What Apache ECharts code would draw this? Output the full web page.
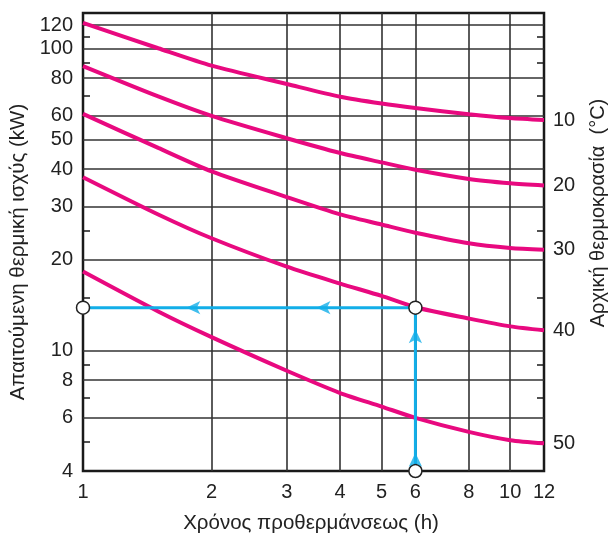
<!DOCTYPE html>
<html>
<head>
<meta charset="utf-8">
<script src="https://cdn.jsdelivr.net/npm/echarts@6/dist/echarts.min.js"></script>
<style>
html,body{margin:0;padding:0;background:#fff;}
#c{width:611px;height:534px;}
</style>
</head>
<body>
<div id="c"></div>
<script>
// Time (h) sample positions
var hours = [1, 1.5, 2, 3, 4, 5, 6, 8, 10, 12];
// Required heating power (kW) for each initial temperature (°C)
var temps = [10, 20, 30, 40, 50];
var power10 = [122, 100.5, 88, 76.5, 69.4, 65.9, 63.7, 60.8, 59.0, 58.1];
var power20 = [87.7, 69.6, 60, 50.6, 45.2, 42.1, 39.8, 37.1, 35.9, 35.3];
var power30 = [60.9, 47.0, 39.3, 32.3, 28.3, 26.2, 24.6, 22.7, 21.9, 21.6];
var power40 = [37.6, 28.3, 23.6, 19.0, 16.7, 15.2, 13.95, 12.8, 12.05, 11.7];
var power50 = [18.3, 13.5, 11.1, 8.59, 7.25, 6.54, 6.0, 5.39, 5.06, 4.94];
// Example path
var exampleX = [6, 6, 1];
var exampleY = [4, 13.9, 13.9];
var arrowX = [3.52, 1.745, 6, 6];
var arrowY = [13.9, 13.9, 4.6, 11.8];
var arrowRot = [90, 90, 0, 0];
// Ticks
var xLabels = [1, 2, 3, 4, 5, 6, 8, 10, 12];
var xGrid = [2, 3, 4, 5, 6, 8, 10];
var yLabels = [4, 6, 8, 10, 20, 30, 40, 50, 60, 80, 100, 120];
var yGrid = [6, 8, 10, 20, 30, 40, 50, 60, 80, 100, 120];
var yMinor = [5, 7, 9, 15, 25, 70, 90, 110];

var powers = [power10, power20, power30, power40, power50];
var FONT = '"Liberation Sans", Arial, sans-serif';
var YMIN = 4, YMAX = 131.5;
var chart = echarts.init(document.getElementById('c'), null, {renderer: 'canvas'});

var series = powers.map(function (p, i) {
  return {
    type: 'line', xAxisIndex: 0, yAxisIndex: 0,
    data: hours.map(function (h, j) { return [h, p[j]]; }),
    smooth: 0.25, symbol: 'none',
    lineStyle: {color: '#E8097F', width: 4},
    endLabel: {show: true, formatter: String(temps[i]), distance: 9,
      color: '#222', fontSize: 20, fontFamily: FONT},
    z: 3
  };
});
series.push({
  type: 'line', xAxisIndex: 0, yAxisIndex: 0,
  data: exampleX.map(function (x, j) { return [x, exampleY[j]]; }),
  symbol: 'circle', symbolSize: 13, showAllSymbol: true,
  itemStyle: {color: '#fff', borderColor: '#222', borderWidth: 1.5},
  lineStyle: {color: '#12AEE8', width: 3}, z: 4
});
series.push({
  type: 'scatter', xAxisIndex: 0, yAxisIndex: 0,
  data: arrowX.map(function (x, j) { return {value: [x, arrowY[j]], symbolRotate: arrowRot[j]}; }),
  symbol: 'arrow', symbolSize: [10, 14],
  itemStyle: {color: '#12AEE8'}, z: 5
});

chart.setOption({
  animation: false,
  grid: {left: 83, right: 67, top: 13, bottom: 63, show: true, borderColor: '#1a1a1a', borderWidth: 2.5,
    backgroundColor: 'transparent', outerBoundsMode: 'none', containLabel: false},
  xAxis: [{
    type: 'log', logBase: 10, min: 1, max: 12,
    axisLine: {show: false},
    axisTick: {show: false, customValues: xGrid},
    splitLine: {show: true, lineStyle: {color: '#333', width: 1.6}},
    axisLabel: {customValues: xLabels, color: '#222', fontSize: 20, fontFamily: FONT, margin: 11, showMinLabel: true, showMaxLabel: true}
  }],
  yAxis: [{
    type: 'log', logBase: 10, min: YMIN, max: YMAX,
    axisLine: {show: false},
    axisTick: {show: false, customValues: yGrid},
    splitLine: {show: true, lineStyle: {color: '#333', width: 1.6}},
    axisLabel: {customValues: yLabels, color: '#222', fontSize: 20, fontFamily: FONT, margin: 10, showMinLabel: true}
  }, {
    type: 'log', logBase: 10, min: YMIN, max: YMAX, position: 'left',
    axisLine: {show: false}, axisLabel: {show: false}, splitLine: {show: false},
    axisTick: {show: true, inside: true, length: 7, customValues: yMinor, lineStyle: {color: '#1a1a1a', width: 1.5}}
  }, {
    type: 'log', logBase: 10, min: YMIN, max: YMAX, position: 'right',
    axisLine: {show: false}, axisLabel: {show: false}, splitLine: {show: false},
    axisTick: {show: true, inside: true, length: 7, customValues: yMinor, lineStyle: {color: '#1a1a1a', width: 1.5}}
  }],
  graphic: [{
    type: 'text', rotation: Math.PI / 2, x: 18, y: 252,
    style: {text: 'Απαιτούμενη θερμική ισχύς (kW)', fill: '#222', font: '20.5px ' + FONT, align: 'center', verticalAlign: 'middle'}
  }, {
    type: 'text', rotation: Math.PI / 2, x: 598, y: 213,
    style: {text: 'Αρχική θερμοκρασία  (°C)', fill: '#222', font: '20px ' + FONT, align: 'center', verticalAlign: 'middle'}
  }, {
    type: 'text', x: 311, y: 523,
    style: {text: 'Χρόνος προθερμάνσεως (h)', fill: '#222', font: '20.5px ' + FONT, align: 'center', verticalAlign: 'middle'}
  }],
  series: series
});
</script>
</body>
</html>
